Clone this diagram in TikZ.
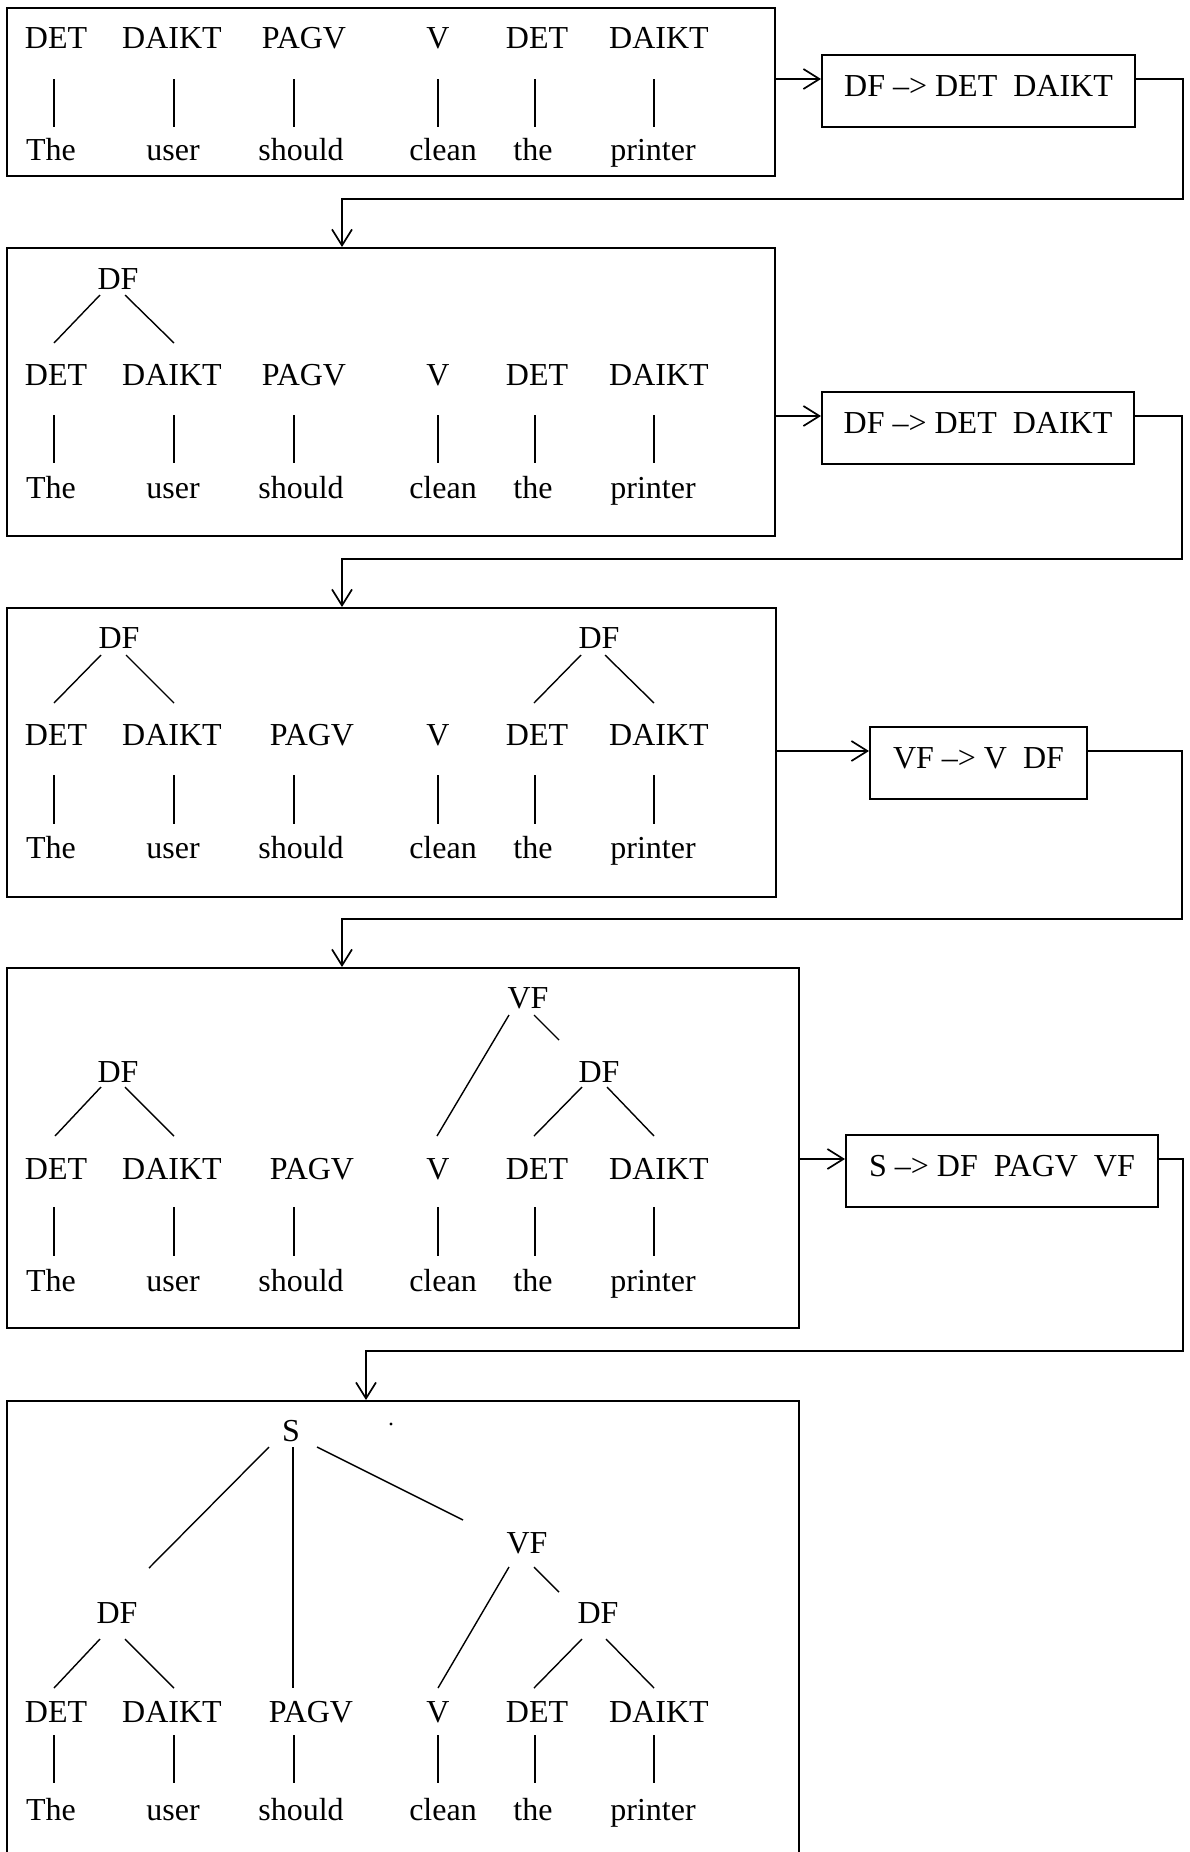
\documentclass[tikz,border=0pt]{standalone}
\usepackage{fontspec}
\setmainfont{Liberation Serif}
\usetikzlibrary{calc,arrows.meta}

% one row of categories over the words, joined by short vertical strokes
% #1 prefix, #2 category baseline, #3 stroke top, #4 stroke bottom, #5 word baseline, #6 x of PAGV
\newcommand\baserow[6]{%
  \foreach \i/\lx/\tx/\wx/\cat/\wrd in {1/54/56/51/DET/The,2/174/172/173/DAIKT/user,3/294/#6/301/PAGV/should,4/438/438/443/V/clean,5/535/537/533/DET/the,6/654/659/653/DAIKT/printer}{%
    \node[lab] (#1l\i) at (\tx,#2) {\cat};
    \node[lab] (#1w\i) at (\wx,#5) {\wrd};
    \draw[tree] ($(#1l\i.base)+(\lx-\tx,#3-#2)$) -- ($(#1w\i.base)+(\lx-\wx,#4-#5)$);
  }}
% a tree branch between two labels, ends given relative to their baselines
\newcommand\branch[4]{\draw[tree] ($(#1.base)+(#2)$) -- ($(#3.base)+(#4)$);}

\begin{document}
\begin{tikzpicture}[x=0.5pt,y=-0.5pt,
  lab/.style={font=\fontsize{16}{19}\selectfont, inner sep=0pt, anchor=base},
  tree/.style={line width=0.7pt},
  bigbox/.style={draw, line width=1pt, inner sep=0pt, anchor=north west},
  rulebox/.style={draw, line width=1pt, inner sep=0pt, anchor=base,
    text height=20.5pt, text depth=15.5pt, font=\fontsize{16}{19}\selectfont},
  arr/.style={line width=0.85pt, -{Straight Barb[length=8pt,width=10pt]}},
]
\fill[white] (0,0) rectangle (1189,1852);
\useasboundingbox (0,0) rectangle (1189,1852);

% ---- stage 1: bare categories
\node[bigbox, minimum width=384pt, minimum height=84pt] (B1) at (6,7) {};
\baserow{b1}{48}{79}{127}{160}{304}

% ---- stage 2: first DF
\node[bigbox, minimum width=384pt, minimum height=144pt] (B2) at (6,247) {};
\node[lab] (b2df) at (118,289) {DF};
\baserow{b2}{385}{415}{463}{498}{304}
\branch{b2df}{-18,6}{b2l1}{-2,-42}
\branch{b2df}{7,6}{b2l2}{2,-42}

% ---- stage 3: both DF
\node[bigbox, minimum width=384.5pt, minimum height=144.5pt] (B3) at (6,607) {};
\node[lab] (b3dfa) at (119,648) {DF};
\node[lab] (b3dfb) at (599,648) {DF};
\baserow{b3}{745}{775}{824}{858}{312}
\branch{b3dfa}{-18,7}{b3l1}{-2,-42}
\branch{b3dfa}{7,7}{b3l2}{2,-42}
\branch{b3dfb}{-18,7}{b3l5}{-3,-42}
\branch{b3dfb}{6,7}{b3l6}{-5,-42}

% ---- stage 4: VF
\node[bigbox, minimum width=396pt, minimum height=180pt] (B4) at (6,967) {};
\node[lab] (b4vf) at (528,1008) {VF};
\node[lab] (b4dfa) at (118,1082) {DF};
\node[lab] (b4dfb) at (599,1082) {DF};
\baserow{b4}{1179}{1207}{1256}{1291}{312}
\branch{b4vf}{-19,7}{b4l4}{-1,-43}
\branch{b4vf}{6,7}{b4dfb}{-40,-42}
\branch{b4dfa}{-17,5}{b4l1}{-1,-43}
\branch{b4dfa}{7,5}{b4l2}{2,-43}
\branch{b4dfb}{-17,5}{b4l5}{-3,-43}
\branch{b4dfb}{8,5}{b4l6}{-5,-43}

% ---- stage 5: S (box runs past the lower edge)
\node[bigbox, minimum width=396pt, minimum height=230pt] (B5) at (6,1400) {};
\node[lab] (b5s) at (291,1441) {S};
\node[lab] (b5vf) at (527,1553) {VF};
\node[lab] (b5dfa) at (117,1623) {DF};
\node[lab] (b5dfb) at (598,1623) {DF};
\baserow{b5}{1722}{1735}{1783}{1820}{311}
\branch{b5s}{-22,6}{b5dfa}{32,-55}
\branch{b5s}{2,6}{b5l3}{-18,-34}
\branch{b5s}{26,6}{b5vf}{-64,-33}
\branch{b5vf}{-18,14}{b5l4}{0,-34}
\branch{b5vf}{7,14}{b5dfb}{-39,-31}
\branch{b5dfa}{-17,16}{b5l1}{-2,-34}
\branch{b5dfa}{8,16}{b5l2}{2,-34}
\branch{b5dfb}{-16,16}{b5l5}{-3,-34}
\branch{b5dfb}{8,16}{b5l6}{-5,-34}
\fill (391,1424) circle (0.8pt);

% ---- rules applied between stages
\node[rulebox, minimum width=156.5pt] (R1) at (978.5,96) {DF –> DET\ \ DAIKT};
\node[rulebox, minimum width=156pt] (R2) at (978,433) {DF –> DET\ \ DAIKT};
\node[rulebox, minimum width=108.5pt] (R3) at (978.5,768) {VF –> V\ \ DF};
\node[rulebox, minimum width=156pt] (R4) at (1002,1176) {S –> DF\ \ PAGV\ \ VF};

% ---- connectors
\foreach \k in {1,2,3,4}{
  \coordinate (r\k in) at ($(R\k.west)+(0,-12)$);
  \coordinate (r\k out) at ($(R\k.east)+(0,-12)$);
}
\coordinate (t1) at (1183,199);
\coordinate (t2) at (1182,559);
\coordinate (t3) at (1182,919);
\coordinate (t4) at (1183,1351);
\coordinate (d1) at (342,0);
\coordinate (d4) at (366,0);

\draw[arr] (B1.east |- r1in) -- (r1in);
\draw[arr] (r1out) -| (t1) -| (B2.north -| d1);
\draw[arr] (B2.east |- r2in) -- (r2in);
\draw[arr] (r2out) -| (t2) -| (B3.north -| d1);
\draw[arr] (B3.east |- r3in) -- (r3in);
\draw[arr] (r3out) -| (t3) -| (B4.north -| d1);
\draw[arr] (B4.east |- r4in) -- (r4in);
\draw[arr] (r4out) -| (t4) -| (B5.north -| d4);
\end{tikzpicture}
\end{document}
